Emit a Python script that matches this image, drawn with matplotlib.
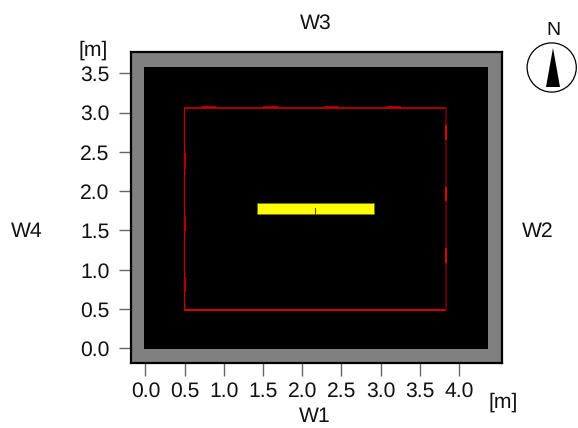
import matplotlib
matplotlib.use('Agg')
import matplotlib.pyplot as plt
from matplotlib.patches import Rectangle, Circle, Polygon

plt.rcParams['font.family'] = ['Liberation Sans', 'DejaVu Sans']
plt.rcParams['text.hinting'] = 'no_hinting'

W, H = 578, 428
AX_L, AX_R, AX_T, AX_B = 130.5, 502, 52, 363

x_ticks = [0.0, 0.5, 1.0, 1.5, 2.0, 2.5, 3.0, 3.5, 4.0]
y_ticks = [0.0, 0.5, 1.0, 1.5, 2.0, 2.5, 3.0, 3.5]
x_lim = [-0.19, 4.55]
y_lim = [-0.187, 3.77]

room_x = [-0.013, 4.367]
room_y = [-0.013, 3.585]
area_x = [0.49, 3.84]
area_y = [0.49, 3.06]
lamp_x = [1.42, 2.92]
lamp_y = [1.71, 1.85]
lamp_mark_x = 2.17
lamp_mark_y = [1.71, 1.79]

# short thicker bits on the walls
left_bits = [[0.72, 0.91], [1.49, 1.68], [2.28, 2.48]]
top_bits = [[0.72, 0.90], [1.50, 1.69], [2.28, 2.47], [3.07, 3.26]]
right_bits = [[1.08, 1.28], [1.87, 2.05], [2.65, 2.84]]

fig = plt.figure(figsize=(W / 100, H / 100), dpi=100)
ax = fig.add_axes([AX_L / W, 1 - AX_B / H, (AX_R - AX_L) / W, (AX_B - AX_T) / H])
ax.set_facecolor('#808080')
ax.set_xlim(x_lim)
ax.set_ylim(y_lim)
ax.set_xticks(x_ticks)
ax.set_yticks(y_ticks)
ax.set_xticklabels(['%.1f' % v for v in x_ticks])
ax.set_yticklabels(['%.1f' % v for v in y_ticks])
ax.tick_params(axis='both', length=9, width=1, color='#666666', labelsize=15.2, labelcolor='#111111')
ax.tick_params(axis='x', pad=4.5)
ax.tick_params(axis='y', pad=6)
for s in ax.spines.values():
    s.set_linewidth(1.6)
    s.set_color('black')

ax.add_patch(Rectangle((room_x[0], room_y[0]), room_x[1] - room_x[0], room_y[1] - room_y[0], fc='black', ec='none'))

ax.plot(area_x, [area_y[0], area_y[0]], color='#ff0000', lw=1.2, solid_capstyle='butt')
ax.plot(area_x, [area_y[1], area_y[1]], color='#e00000', lw=1.1, solid_capstyle='butt')
ax.plot([area_x[0], area_x[0]], area_y, color='#c80000', lw=0.9, solid_capstyle='butt')
ax.plot([area_x[1], area_x[1]], area_y, color='#600000', lw=1.4, solid_capstyle='butt')
for a, b in left_bits:
    ax.plot([area_x[0] + 0.016] * 2, [a, b], color='#b00000', lw=1.6, solid_capstyle='butt')
for a, b in top_bits:
    ax.plot([a, b], [area_y[1] + 0.012] * 2, color='#c00000', lw=1.2, solid_capstyle='butt')
for a, b in right_bits:
    ax.plot([area_x[1]] * 2, [a, b], color='#e00000', lw=1.4, solid_capstyle='butt')

ax.add_patch(Rectangle((lamp_x[0], lamp_y[0]), lamp_x[1] - lamp_x[0], lamp_y[1] - lamp_y[0], fc='#ffff00', ec='#707000', lw=0.4))
ax.plot([lamp_mark_x] * 2, lamp_mark_y, color='#555500', lw=0.8)

def label(px, py, s, size=15.2):
    fig.text(px / W, 1 - py / H, s, fontsize=size, color='#111111', ha='center', va='center')

label(316, 23, 'W3')
label(315, 417, 'W1')
label(27, 232, 'W4')
label(538, 232, 'W2')
label(93, 50, '[m]')
label(503.5, 402, '[m]')
label(553, 30, 'N', size=14)

# north arrow, in pixel space
bg = fig.add_axes([0, 0, 1, 1], zorder=5)
bg.set_xlim(0, W)
bg.set_ylim(H, 0)
bg.axis('off')
bg.patch.set_alpha(0)
bg.add_patch(Circle((551.7, 67.5), 24.6, fc='white', ec='black', lw=0.9))
bg.add_patch(Polygon([[553, 48], [546, 87], [560, 87]], closed=True, fc='black', ec='none'))

fig.savefig('out.png', dpi=100)
